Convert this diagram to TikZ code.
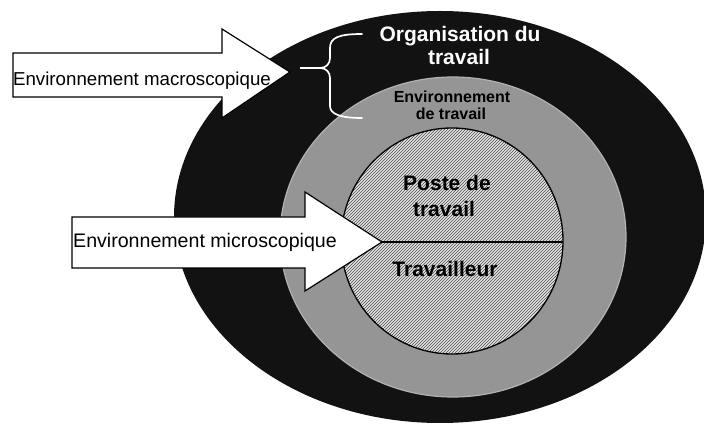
\documentclass[tikz,border=0pt]{standalone}
\usepackage{fontspec}
\setmainfont{Liberation Sans}
\usetikzlibrary{patterns}

\definecolor{outerfill}{HTML}{121212}
\definecolor{ringfill}{HTML}{959595}
\definecolor{corefill}{HTML}{E4E4E4}

\tikzset{
  bigarrow/.style={draw=black, fill=white, line width=1.2pt, line join=miter},
  boxlabel/.style={anchor=base, inner sep=0pt, text=black},
  ringlabel/.style={anchor=base, inner sep=0pt, font=\bfseries},
  bracestyle/.style={draw=white, line width=1.7pt, line cap=round},
}

\begin{document}
\begin{tikzpicture}[x=1pt, y=-1pt]
\useasboundingbox (0,0) rectangle (704,427);

% outer zone: organisation du travail
\fill[outerfill] (440,217) ellipse [x radius=266, y radius=206];

% middle zone: environnement de travail
\filldraw[fill=ringfill, draw=white!70!black, line width=1.2pt]
  (453,237) ellipse [x radius=173, y radius=160];

% inner zone: poste de travail / travailleur
\fill[corefill] (452,241) ellipse [x radius=111, y radius=113];
\fill[pattern=north east lines, pattern color=black!70]
  (452,241) ellipse [x radius=111, y radius=113];
\draw[black, line width=1.3pt] (452,241) ellipse [x radius=111, y radius=113];

% brace grouping the outer zone
\coordinate (braceTop) at (362,34);
\coordinate (braceTip) at (320,68);
\coordinate (braceBot) at (362,118);
\coordinate (braceLead) at (300,68);
\draw[bracestyle] (braceTop) .. controls (338,34) and (330,38) .. (330,48)
  -- (330,58) .. controls (330,64) and (326,68) .. (braceTip)
  .. controls (326,68) and (330,72) .. (330,78)
  -- (330,106) .. controls (330,114) and (340,118) .. (braceBot);
\draw[white, line width=1.2pt] (braceLead) -- (braceTip);

% macro arrow
\coordinate (maTip) at (290,72);
\draw[bigarrow] (13,53) -- (222,53) -- (222,29) -- (maTip) -- (222,118)
  -- (222,97) -- (13,97) -- cycle;
\node[boxlabel, font=\fontsize{18.7}{22}\selectfont] (macro) at (142,86)
  {Environnement macroscopique};

% separation between poste and travailleur
\coordinate (miTip) at (382,242);
\coordinate (coreRight) at (563,242);
\draw[black, line width=1.5pt] (miTip) -- (coreRight);

% micro arrow
\draw[bigarrow] (72,217) -- (305,217) -- (305,192) -- (miTip) -- (305,291)
  -- (305,268) -- (72,268) -- cycle;
\node[boxlabel, font=\fontsize{19.6}{23}\selectfont] (micro) at (205,248)
  {Environnement microscopique};

% zone labels
\node[ringlabel, text=white, font=\bfseries\fontsize{21}{23}\selectfont] (orgA) at (460,42) {Organisation du};
\node[ringlabel, text=white, font=\bfseries\fontsize{21}{23}\selectfont] (orgB) at (459,65) {travail};

\node[ringlabel, text=black, font=\bfseries\fontsize{16}{18}\selectfont] (envA) at (452,103) {Environnement};
\node[ringlabel, text=black, font=\bfseries\fontsize{16}{18}\selectfont] (envB) at (451,120) {de travail};

\node[ringlabel, text=black, font=\bfseries\fontsize{21}{24}\selectfont] (posA) at (447,191) {Poste de};
\node[ringlabel, text=black, font=\bfseries\fontsize{21}{24}\selectfont] (posB) at (444,217) {travail};

\node[ringlabel, text=black, font=\bfseries\fontsize{21}{24}\selectfont] (trav) at (445,277) {Travailleur};
\end{tikzpicture}
\end{document}
